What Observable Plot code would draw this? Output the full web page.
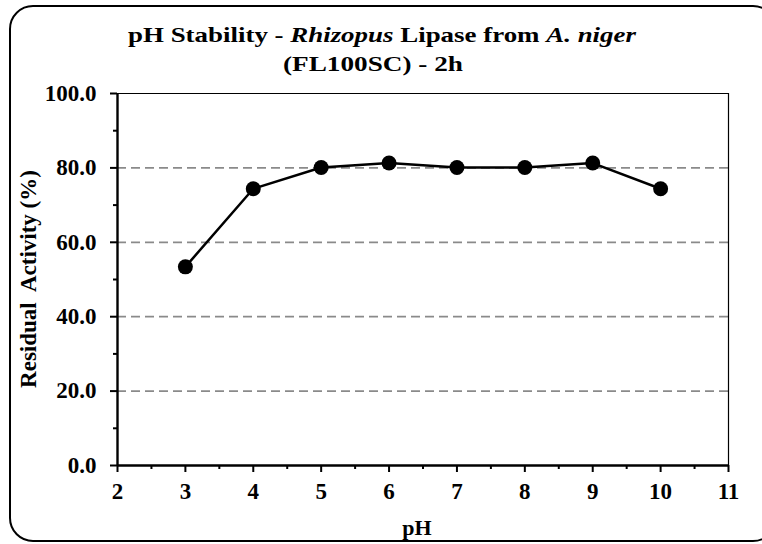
<!DOCTYPE html>
<html>
<head>
<meta charset="utf-8">
<script src="https://cdn.jsdelivr.net/npm/d3@7"></script>
<script src="https://cdn.jsdelivr.net/npm/@observablehq/plot@0.6"></script>
<style>
  html, body { margin: 0; padding: 0; background: #fff; }
  #chart { width: 762px; height: 544px; overflow: hidden; }
  svg text { white-space: pre; }
</style>
</head>
<body>
<div id="chart"></div>
<script>
const phValues = [3, 4, 5, 6, 7, 8, 9, 10];
const residualActivity = [53.4, 74.4, 80.1, 81.3, 80.1, 80.1, 81.3, 74.4];
const yMajorTicks = [0, 20, 40, 60, 80, 100];
const yMinorTicks = [10, 30, 50, 70, 90];
const yGridTicks = [20, 40, 60, 80];
const xMajorTicks = [2, 3, 4, 5, 6, 7, 8, 9, 10, 11];
const xMinorTicks = [2.5, 3.5, 4.5, 5.5, 6.5, 7.5, 8.5, 9.5, 10.5];
const titleLine1 = [
  {text: "pH Stability - ", italic: false},
  {text: "Rhizopus", italic: true},
  {text: " Lipase from ", italic: false},
  {text: "A. niger", italic: true}
];
const titleLine2 = "(FL100SC) - 2h";
const xLabel = "pH";
const yLabel = "Residual  Activity (%)";

const data = phValues.map((ph, i) => ({ph, act: residualActivity[i]}));
const FONT = "'Liberation Serif', 'Times New Roman', Times, serif";

const plot = Plot.plot({
  width: 762,
  height: 544,
  marginLeft: 117,
  marginRight: 34,
  marginTop: 93,
  marginBottom: 79,
  style: {fontFamily: FONT, background: "#fff", color: "#000"},
  x: {domain: [2, 11]},
  y: {domain: [0, 100]},
  marks: [
    Plot.ruleY(yGridTicks, {stroke: "#8a8a8a", strokeWidth: 1.8, strokeDasharray: "9,5"}),
    Plot.ruleY([100], {stroke: "#000", strokeWidth: 1.2}),
    Plot.ruleX([11], {stroke: "#000", strokeWidth: 1.2}),
    Plot.axisY(yMajorTicks, {
      tickSize: 7, tickPadding: 14, tickFormat: d => d.toFixed(1),
      fontSize: 23, fontWeight: "bold", label: null, strokeWidth: 2
    }),
    Plot.axisY(yMinorTicks, {tickSize: 4, text: null, label: null, strokeWidth: 2}),
    Plot.axisX(xMajorTicks, {
      tickSize: 7, tickPadding: 10, tickFormat: d => String(d),
      fontSize: 23, fontWeight: "bold", label: null, strokeWidth: 2
    }),
    Plot.axisX(xMinorTicks, {tickSize: 4, text: null, label: null, strokeWidth: 2}),
    Plot.ruleX([2], {stroke: "#000", strokeWidth: 2.4}),
    Plot.ruleY([0], {stroke: "#000", strokeWidth: 2.4}),
    Plot.line(data, {x: "ph", y: "act", stroke: "#000", strokeWidth: 2.5}),
    Plot.dot(data, {x: "ph", y: "act", r: 7.5, fill: "#000", stroke: "none"})
  ]
});

document.getElementById("chart").appendChild(plot);

const svg = d3.select(plot);
svg.append("rect")
  .attr("x", 10).attr("y", 6)
  .attr("width", 766).attr("height", 535)
  .attr("rx", 23).attr("ry", 23)
  .attr("fill", "none").attr("stroke", "#000").attr("stroke-width", 2);

const t1 = svg.append("text")
  .attr("x", 382).attr("y", 42)
  .attr("text-anchor", "middle")
  .attr("textLength", 508).attr("lengthAdjust", "spacingAndGlyphs")
  .attr("font-family", FONT).attr("font-size", 22).attr("font-weight", "bold")
  .attr("fill", "#000");
titleLine1.forEach(p => {
  t1.append("tspan").attr("font-style", p.italic ? "italic" : "normal").text(p.text);
});
svg.append("text")
  .attr("x", 373).attr("y", 71)
  .attr("text-anchor", "middle")
  .attr("textLength", 180).attr("lengthAdjust", "spacingAndGlyphs")
  .attr("font-family", FONT).attr("font-size", 22).attr("font-weight", "bold")
  .attr("fill", "#000")
  .text(titleLine2);

svg.append("text")
  .attr("x", 417).attr("y", 535)
  .attr("text-anchor", "middle")
  .attr("font-family", FONT).attr("font-size", 22).attr("font-weight", "bold")
  .attr("fill", "#000")
  .text(xLabel);

svg.append("text")
  .attr("transform", "translate(36,279) rotate(-90)")
  .attr("text-anchor", "middle")
  .attr("font-family", FONT).attr("font-size", 23).attr("font-weight", "bold")
  .attr("fill", "#000")
  .style("white-space", "pre")
  .text(yLabel);
</script>
</body>
</html>
